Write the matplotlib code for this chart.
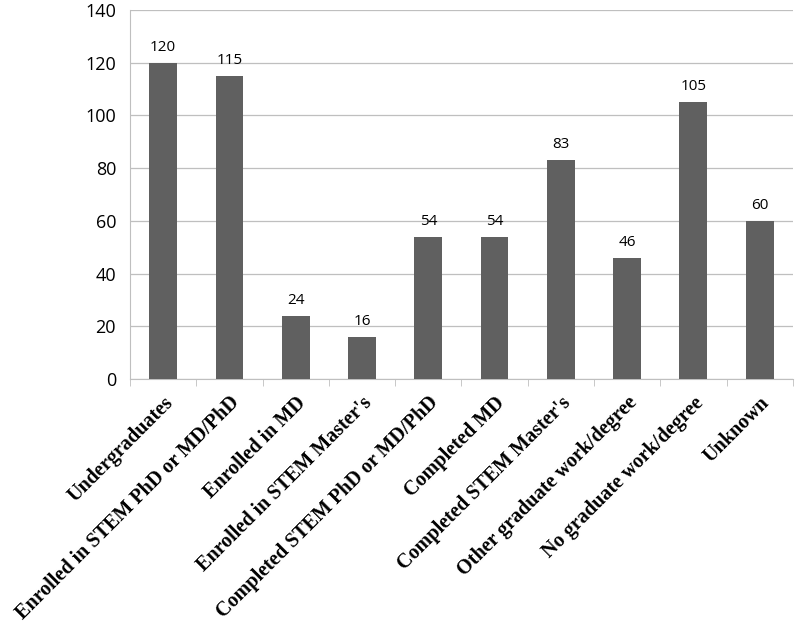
import matplotlib.pyplot as plt
import numpy as np

categories = ["Undergraduates", "Enrolled in STEM PhD or MD/PhD", "Enrolled in MD",
              "Enrolled in STEM Master's", "Completed STEM PhD or MD/PhD", "Completed MD",
              "Completed STEM Master's", "Other graduate work/degree",
              "No graduate work/degree", "Unknown"]
values = [120, 115, 24, 16, 54, 54, 83, 46, 105, 60]

fig = plt.figure(figsize=(8, 6.28), dpi=100)
ax = fig.add_axes([0.1625, 0.3965, 0.8285, 0.5875])

x = np.arange(len(categories))
ax.bar(x, values, width=0.42, color='#606060', zorder=3)
for xi, v in zip(x, values):
    ax.text(xi, v + 3, str(v), ha='center', va='bottom', fontsize=11,
            family='Open Sans', color='black')

ax.set_xlim(-0.5, len(categories) - 0.5)
ax.set_ylim(0, 140)
ax.set_yticks(range(0, 141, 20))
ax.yaxis.grid(True, color='#bfbfbf', linewidth=0.9, zorder=0)
ax.tick_params(axis='y', length=0, labelsize=13, pad=10)
for lab in ax.get_yticklabels():
    lab.set_family('Open Sans')

ax.set_xticks(x)
ax.set_xticklabels(categories, rotation=45, ha='right', rotation_mode='anchor',
                   fontsize=14.5, fontweight='bold', family='Liberation Serif')
ax.tick_params(axis='x', which='major', length=0, pad=10)
ax.set_xticks(np.arange(-0.5, len(categories)), minor=True)
ax.tick_params(axis='x', which='minor', length=5, color='#bfbfbf', direction='out')

for s in ['top', 'right']:
    ax.spines[s].set_visible(False)
ax.spines['left'].set_color('#bfbfbf')
ax.spines['bottom'].set_color('#bfbfbf')

fig.savefig('out.png', dpi=100)
